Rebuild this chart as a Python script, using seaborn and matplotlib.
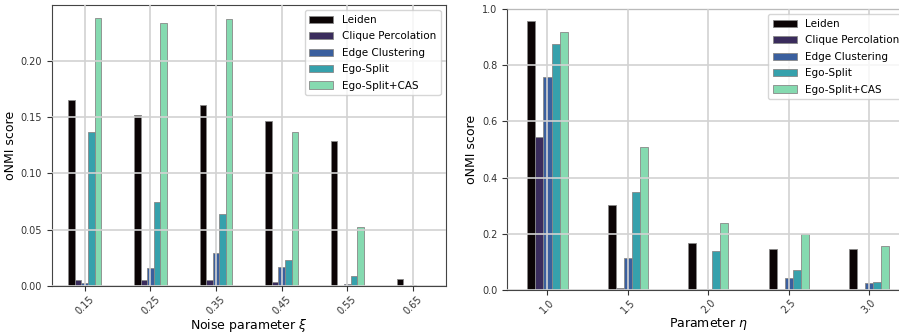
import numpy as np
import pandas as pd
import matplotlib
matplotlib.use("Agg")
import matplotlib.pyplot as plt
import seaborn as sns

# ---- data ----
methods = ["Leiden", "Clique Percolation", "Edge Clustering", "Ego-Split", "Ego-Split+CAS"]

noise_labels = ["0.15", "0.25", "0.35", "0.45", "0.55", "0.65"]
noise_leiden = [0.165, 0.152, 0.161, 0.146, 0.129, 0.0065]
noise_clique = [0.0055, 0.0055, 0.005, 0.004, 0.0, 0.0]
noise_edge = [0.0027, 0.0157, 0.029, 0.0166, 0.0015, 0.0006]
noise_ego = [0.137, 0.0748, 0.064, 0.0234, 0.0086, 0.0]
noise_cas = [0.2374, 0.2335, 0.237, 0.1362, 0.0525, 0.0]

eta_labels = ["1.0", "1.5", "2.0", "2.5", "3.0"]
eta_leiden = [0.957, 0.304, 0.166, 0.147, 0.147]
eta_clique = [0.544, 0.006, 0.004, 0.002, 0.003]
eta_edge = [0.758, 0.114, 0.003, 0.044, 0.026]
eta_ego = [0.877, 0.350, 0.138, 0.072, 0.030]
eta_cas = [0.919, 0.509, 0.240, 0.199, 0.155]

colors = ["#0b0405", "#3a2c5c", "#3a5f9e", "#36a1ac", "#85dab0"]


def long_table(labels, series):
    rows = []
    for name, vals in zip(methods, series):
        for lab, v in zip(labels, vals):
            rows.append({"param": lab, "method": name, "score": v})
    return pd.DataFrame(rows)


df_noise = long_table(noise_labels, [noise_leiden, noise_clique, noise_edge, noise_ego, noise_cas])
df_eta = long_table(eta_labels, [eta_leiden, eta_clique, eta_edge, eta_ego, eta_cas])

fig = plt.figure(figsize=(8.99, 3.33), dpi=100)
ax1 = fig.add_axes([0.0578, 0.141, 0.438, 0.844])
ax2 = fig.add_axes([0.5643, 0.129, 0.447, 0.844])

for ax, df, labels, xlabel in [(ax1, df_noise, noise_labels, r"Noise parameter $\xi$"),
                                (ax2, df_eta, eta_labels, r"Parameter $\eta$")]:
    sns.barplot(data=df, x="param", y="score", hue="method", order=labels,
                hue_order=methods, palette=colors, width=0.5, saturation=1,
                errorbar=None, linewidth=0.6, edgecolor="#888888", ax=ax)
    ax.set_xlabel(xlabel, fontsize=9, labelpad=0.5)
    ax.set_ylabel("oNMI score", fontsize=9, labelpad=3)
    ax.tick_params(axis="x", labelrotation=45, labelsize=7, colors="#333333", pad=2)
    ax.tick_params(axis="y", labelsize=7, colors="#333333")
    ax.set_axisbelow(False)
    ax.grid(True, color="#d2d2d2", linewidth=1.2)
    for s in ax.spines.values():
        s.set_color("#444444")
    ax.legend(loc="upper right", fontsize=7.5, labelspacing=0.62,
              handlelength=2.3, borderpad=0.45)
    ax.set_xlim(-0.5, len(labels) - 0.5)

ax2.set_ylim(0, 1.0)
ax2.set_yticks([0.0, 0.2, 0.4, 0.6, 0.8, 1.0])

plt.savefig("out.png", dpi=100)
